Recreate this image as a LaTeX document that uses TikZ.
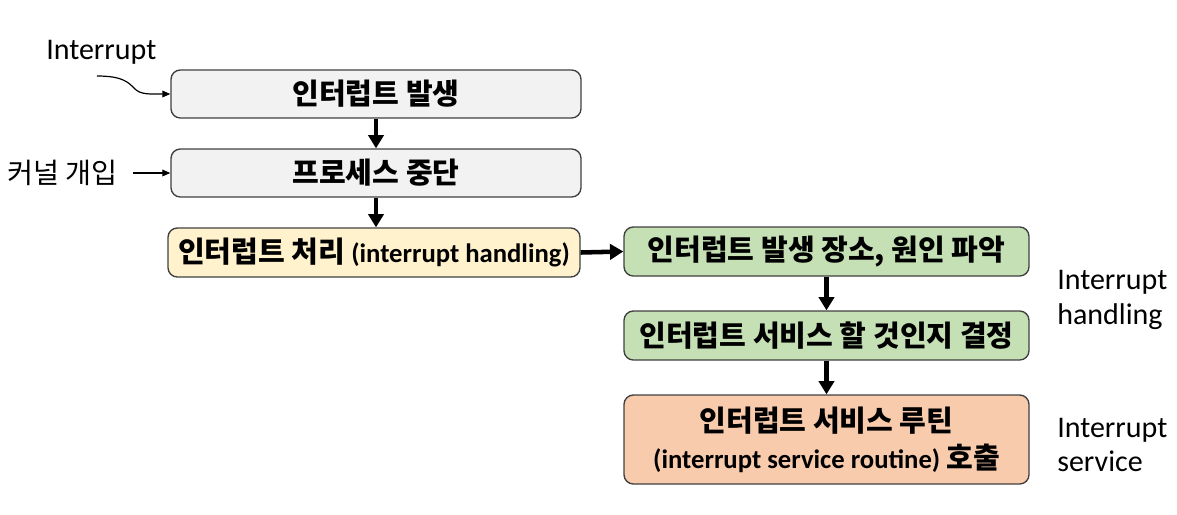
\documentclass[tikz,border=0pt]{standalone}
\usepackage{fontspec}
\setmainfont{Carlito}
\newfontfamily\kr{Noto Sans CJK KR}
\usetikzlibrary{arrows.meta}
\definecolor{boxgray}{HTML}{F2F2F2}
\definecolor{boxyellow}{HTML}{FFF2CC}
\definecolor{boxgreen}{HTML}{C5E0B4}
\definecolor{boxorange}{HTML}{F8CBAD}
\definecolor{edge}{HTML}{404040}
\tikzset{
  stepbox/.style={draw=edge, line width=1pt, rounded corners=7pt, align=center,
    inner sep=0pt, font=\fontsize{20}{29}\selectfont\bfseries},
  flow/.style={line width=3.4pt, -{Triangle[length=10pt,width=11.5pt]}},
  thin/.style={line width=0.9pt, -{Triangle[length=6pt,width=5pt]}},
  lbl/.style={font=\fontsize{22.5}{26}\selectfont, inner sep=0pt, align=left}
}
\newcommand{\K}[1]{{\kr\fontsize{21.8}{29}\selectfont #1}}
\begin{document}
\begin{tikzpicture}[x=0.75pt,y=-0.75pt]
\useasboundingbox (0,0) rectangle (1177,514);
\node[stepbox, fill=boxgray, minimum width=307.5pt, minimum height=36pt] (b1) at (376,94) {\K{인터럽트 발생}};
\node[stepbox, fill=boxgray, minimum width=307.5pt, minimum height=36pt] (b2) at (376,173) {\K{프로세스 중단}};
\node[stepbox, fill=boxyellow, minimum width=309pt, minimum height=36.75pt] (b3) at (374,252.5) {\K{인터럽트 처리} (interrupt handling)};
\node[stepbox, fill=boxgreen, minimum width=303.75pt, minimum height=36.75pt] (b4) at (826.5,251.5) {\K{인터럽트 발생 장소, 원인 파악}};
\node[stepbox, fill=boxgreen, minimum width=303.75pt, minimum height=36.75pt] (b5) at (826.5,335.5) {\K{인터럽트 서비스 할 것인지 결정}};
\node[stepbox, fill=boxorange, minimum width=303.75pt, minimum height=66.75pt] (b6) at (826.5,439.5) {\K{인터럽트 서비스 루틴}\\[-1pt](interrupt service routine) \K{호출}};

\node[lbl, anchor=west] (intr) at (46,52) {Interrupt};
\node[anchor=west, inner sep=0pt, font=\kr\fontsize{21.2}{24}\selectfont] (kern) at (7,173) {커널 개입};
\node[lbl, anchor=west] (h) at (1057,300) {Interrupt\\handling};
\node[lbl, anchor=west] (s) at (1057,445) {Interrupt\\service};

\coordinate (cs) at (97,76);
\draw[thin] (cs) .. controls (122,76) and (128,82) .. (134,88) .. controls (140,95) and (150,94) .. (b1.west |- 0,94);
\draw[thin] (kern.east) ++(15,0) coordinate (ks) (ks) -- (b2.west);

\draw[flow] (b1.south) -- (b2.north);
\draw[flow] (b2.south) -- (b3.north -| b2.south);
\draw[flow] (b3.east) -- (b4.west);
\draw[flow] (b4.south) -- (b5.north);
\draw[flow] (b5.south) -- (b6.north);
\end{tikzpicture}
\end{document}
